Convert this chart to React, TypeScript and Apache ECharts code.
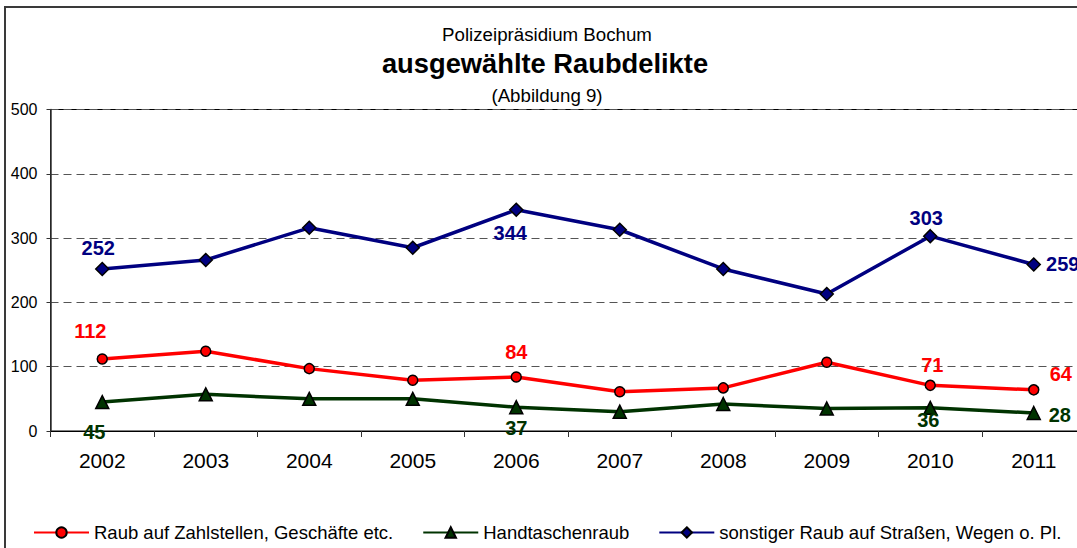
import React, { useEffect, useRef } from 'react';
import * as echarts from 'echarts';

const FONT = '"Liberation Sans", Arial, Helvetica, sans-serif';

// ---- data ----
const years = ['2002', '2003', '2004', '2005', '2006', '2007', '2008', '2009', '2010', '2011'];
const raubZahlstellen = [112, 124, 97, 79, 84, 61, 67, 107, 71, 64];
const handtaschenraub = [45, 57, 50, 50, 37, 30, 42, 35, 36, 28];
const sonstigerRaub = [252, 266, 316, 285, 344, 313, 252, 213, 303, 259];

const seriesNames = [
  'Raub auf Zahlstellen, Geschäfte etc.',
  'Handtaschenraub',
  'sonstiger Raub auf Straßen, Wegen o. Pl.',
];

const titleLine1 = 'Polizeipräsidium Bochum';
const titleLine2 = 'ausgewählte Raubdelikte';
const titleLine3 = '(Abbildung 9)';

const yMin = 0;
const yMax = 500;
const yStep = 100;

// label placement (offset of label centre from the marker), by category index
const redLabelOffsets: Record<number, [number, number]> = { 0: [-12, -28], 4: [0, -25], 8: [2, -20], 9: [27, -16] };
const greenLabelOffsets: Record<number, [number, number]> = { 0: [-8, 30], 4: [0, 21], 8: [-2, 12], 9: [26, 2] };
const blueLabelOffsets: Record<number, [number, number]> = { 0: [-4, -21], 4: [-6, 23], 8: [-4, -18], 9: [29, 0] };

const RED = '#FF0000';
const GREEN = '#003300';
const BLUE = '#000080';

const CHART_W = 1094;
const CHART_H = 548;

function buildData(values: number[], offsets: Record<number, [number, number]>, color: string) {
  return values.map((v, i) => {
    const off = offsets[i];
    return {
      value: v,
      label: off
        ? {
            show: true,
            position: 'inside',
            offset: off,
            color,
            fontSize: 20,
            fontWeight: 'bold',
            fontFamily: FONT,
            textBorderWidth: 0,
            formatter: '{c}',
          }
        : { show: false },
    };
  });
}

export default function App() {
  const ref = useRef<HTMLDivElement>(null);

  useEffect(() => {
    if (!ref.current) return;
    const chart = echarts.init(ref.current, null, { renderer: 'svg' });
    const option: any = {
      animation: false,
      backgroundColor: '#ffffff',
      textStyle: { fontFamily: FONT },
      graphic: [
        {
          type: 'rect',
          shape: { x: 5, y: 7, width: 1120, height: 600 },
          style: { fill: 'none', stroke: '#3a3a3a', lineWidth: 2 },
          silent: true,
        },
        {
          type: 'text',
          x: 547,
          y: 34,
          style: { text: titleLine1, align: 'center', verticalAlign: 'middle', fill: '#000', font: `18.7px ${FONT}` },
        },
        {
          type: 'text',
          x: 545,
          y: 63,
          style: { text: titleLine2, align: 'center', verticalAlign: 'middle', fill: '#000', font: `bold 27.3px ${FONT}` },
        },
        {
          type: 'text',
          x: 547,
          y: 95,
          style: { text: titleLine3, align: 'center', verticalAlign: 'middle', fill: '#000', font: `18.7px ${FONT}` },
        },
      ],
      grid: {
        left: 50.5,
        top: 109.5,
        bottom: 117,
        right: CHART_W - 1085.5,
        show: true,
        borderColor: '#000',
        borderWidth: 1,
        backgroundColor: 'transparent',
      },
      legend: {
        data: seriesNames,
        left: 28,
        top: 518,
        itemWidth: 55,
        itemHeight: 13,
        itemGap: 29,
        textStyle: { fontSize: 18.5, color: '#000', fontFamily: FONT },
      },
      xAxis: {
        type: 'category',
        data: years,
        boundaryGap: true,
        axisLine: { show: true, lineStyle: { color: '#000', width: 1 } },
        axisTick: { show: true, length: 6, lineStyle: { color: '#333', width: 1 } },
        axisLabel: { fontSize: 21, color: '#000', margin: 19, fontFamily: FONT },
        splitLine: { show: false },
      },
      yAxis: {
        type: 'value',
        min: yMin,
        max: yMax,
        interval: yStep,
        axisLine: { show: true, lineStyle: { color: '#333', width: 1.5 } },
        axisTick: { show: true, length: 4, lineStyle: { color: '#333', width: 1 } },
        axisLabel: { fontSize: 16, color: '#000', margin: 13, fontFamily: FONT },
        splitLine: { show: true, lineStyle: { color: '#555', type: [8, 5], width: 1 } },
      },
      series: [
        {
          name: seriesNames[0],
          type: 'line',
          data: buildData(raubZahlstellen, redLabelOffsets, RED),
          symbol: 'circle',
          symbolSize: 10,
          lineStyle: { color: RED, width: 3.5 },
          itemStyle: { color: RED, borderColor: '#000', borderWidth: 1.5 },
          z: 3,
        },
        {
          name: seriesNames[1],
          type: 'line',
          data: buildData(handtaschenraub, greenLabelOffsets, GREEN),
          symbol: 'triangle',
          symbolSize: 13,
          lineStyle: { color: GREEN, width: 3.5 },
          itemStyle: { color: GREEN, borderColor: '#000', borderWidth: 1.5 },
          z: 2,
        },
        {
          name: seriesNames[2],
          type: 'line',
          data: buildData(sonstigerRaub, blueLabelOffsets, BLUE),
          symbol: 'diamond',
          symbolSize: 13,
          lineStyle: { color: BLUE, width: 3.5 },
          itemStyle: { color: BLUE, borderColor: '#000', borderWidth: 1.5 },
          z: 4,
        },
      ],
    };
    chart.setOption(option);
    return () => chart.dispose();
  }, []);

  return (
    <div
      style={{
        position: 'fixed',
        left: 0,
        top: 0,
        width: 1077,
        height: CHART_H,
        overflow: 'hidden',
        background: '#fff',
      }}
    >
      <div ref={ref} style={{ width: CHART_W, height: CHART_H }} />
    </div>
  );
}
